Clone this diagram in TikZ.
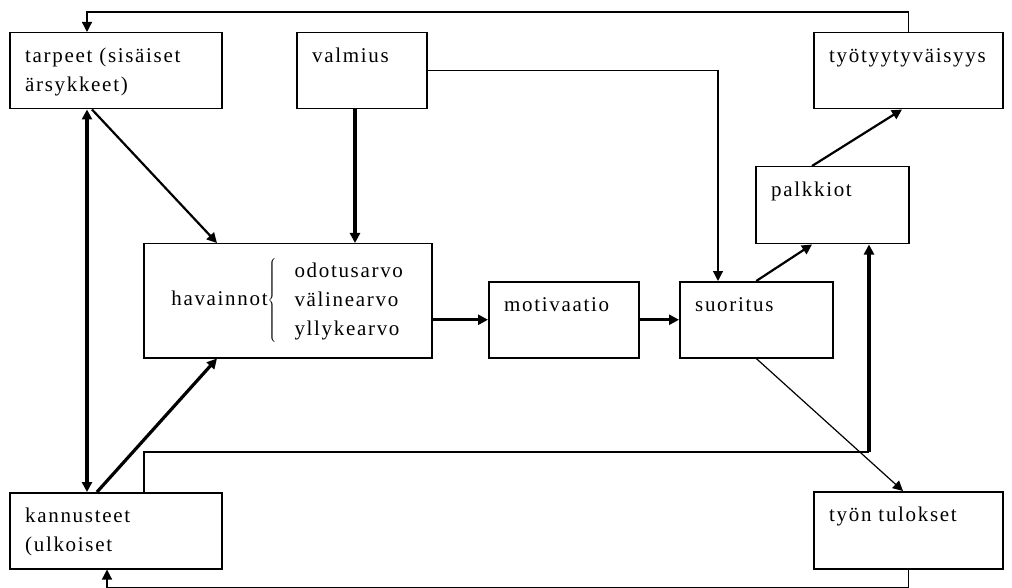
\documentclass[tikz,border=0pt]{standalone}
\usepackage{fontspec}
\setmainfont{Liberation Serif}[LetterSpace=8]
\usetikzlibrary{positioning,calc,arrows.meta}

\begin{document}
\begin{tikzpicture}[x=1pt,y=-1pt,
  every node/.style={font=\fontsize{21}{29}\selectfont},
  box/.style={draw,line width=1.5pt,anchor=north west,inner sep=0pt},
  txt/.style={anchor=north west,inner sep=0pt,align=left,xshift=16pt,yshift=-16pt},
  arr/.style={-{Triangle[length=10pt,width=10pt]}},
  darr/.style={{Triangle[length=10pt,width=10pt]}-{Triangle[length=10pt,width=10pt]}},
  thin line/.style={line width=1.2pt},
  mid line/.style={line width=2.2pt},
  thick line/.style={line width=3.2pt}
]
\useasboundingbox (0,0) rectangle (1012,588);

% boxes
\node[box,minimum width=212pt,minimum height=76pt,
  label={[txt]north west:tarpeet (sisäiset\\ärsykkeet)}] (tarp) at (9,32) {};
\node[box,minimum width=130pt,minimum height=76pt,
  label={[txt]north west:valmius}] (valm) at (296,32) {};
\node[box,minimum width=189pt,minimum height=76pt,
  label={[txt]north west:työtyytyväisyys}] (tyyt) at (813,32) {};
\node[box,minimum width=153pt,minimum height=77pt,
  label={[txt]north west:palkkiot}] (palk) at (755,166) {};
\node[box,minimum width=288pt,minimum height=114pt] (hav) at (143,243)
  {havainnot$\left\{\begin{tabular}{@{\hspace{18pt}}l@{}}odotusarvo\\välinearvo\\yllykearvo\end{tabular}\right.$};
\node[box,minimum width=150pt,minimum height=76pt,
  label={[txt]north west:motivaatio}] (moti) at (488,281) {};
\node[box,minimum width=153pt,minimum height=76pt,
  label={[txt]north west:suoritus}] (suor) at (679,281) {};
\node[box,minimum width=212pt,minimum height=76pt,
  label={[txt]north west:kannusteet\\(ulkoiset}] (kann) at (9,492) {};
\node[box,minimum width=189pt,minimum height=77pt,
  label={[txt]north west:työn tulokset}] (tulo) at (813,491) {};

% feedback loops
\draw[thin line,arr] (tyyt.north) -- ++(0,-20) -| ([xshift=78pt]tarp.north west);
\draw[thin line,arr] (tulo.south) -- ++(0,18) -| ([xshift=98pt]kann.south west);
\coordinate (turn) at (869,452);
\draw[thin line] ([xshift=135pt]kann.north west) |- (turn);
\draw[thick line,arr] (turn) -- (turn |- palk.south);

% connectors
\draw[thin line,arr] (valm.east) -| ([xshift=39pt]suor.north west);
\draw[thick line,arr] ([xshift=59pt]valm.south west) -- ([xshift=59pt]valm.south west |- hav.north);
\draw[thick line,darr] ([xshift=78pt]tarp.south west) -- ([xshift=78pt]kann.north west);
\draw[mid line,arr] ([xshift=83pt]tarp.south west) -- ([xshift=74pt]hav.north west);
\draw[thick line,arr] ([xshift=88pt]kann.north west) -- ([xshift=74pt]hav.south west);
\draw[thick line,arr] (hav.east |- moti.west) -- (moti.west);
\draw[thick line,arr] (moti.east) -- (suor.west);
\draw[mid line,arr] (suor.north) -- ([xshift=57pt]palk.south west);
\draw[mid line,arr] ([xshift=57pt]palk.north west) -- ([xshift=89pt]tyyt.south west);
\draw[thin line,arr] (suor.south) -- ([xshift=90pt]tulo.north west);
\end{tikzpicture}
\end{document}
